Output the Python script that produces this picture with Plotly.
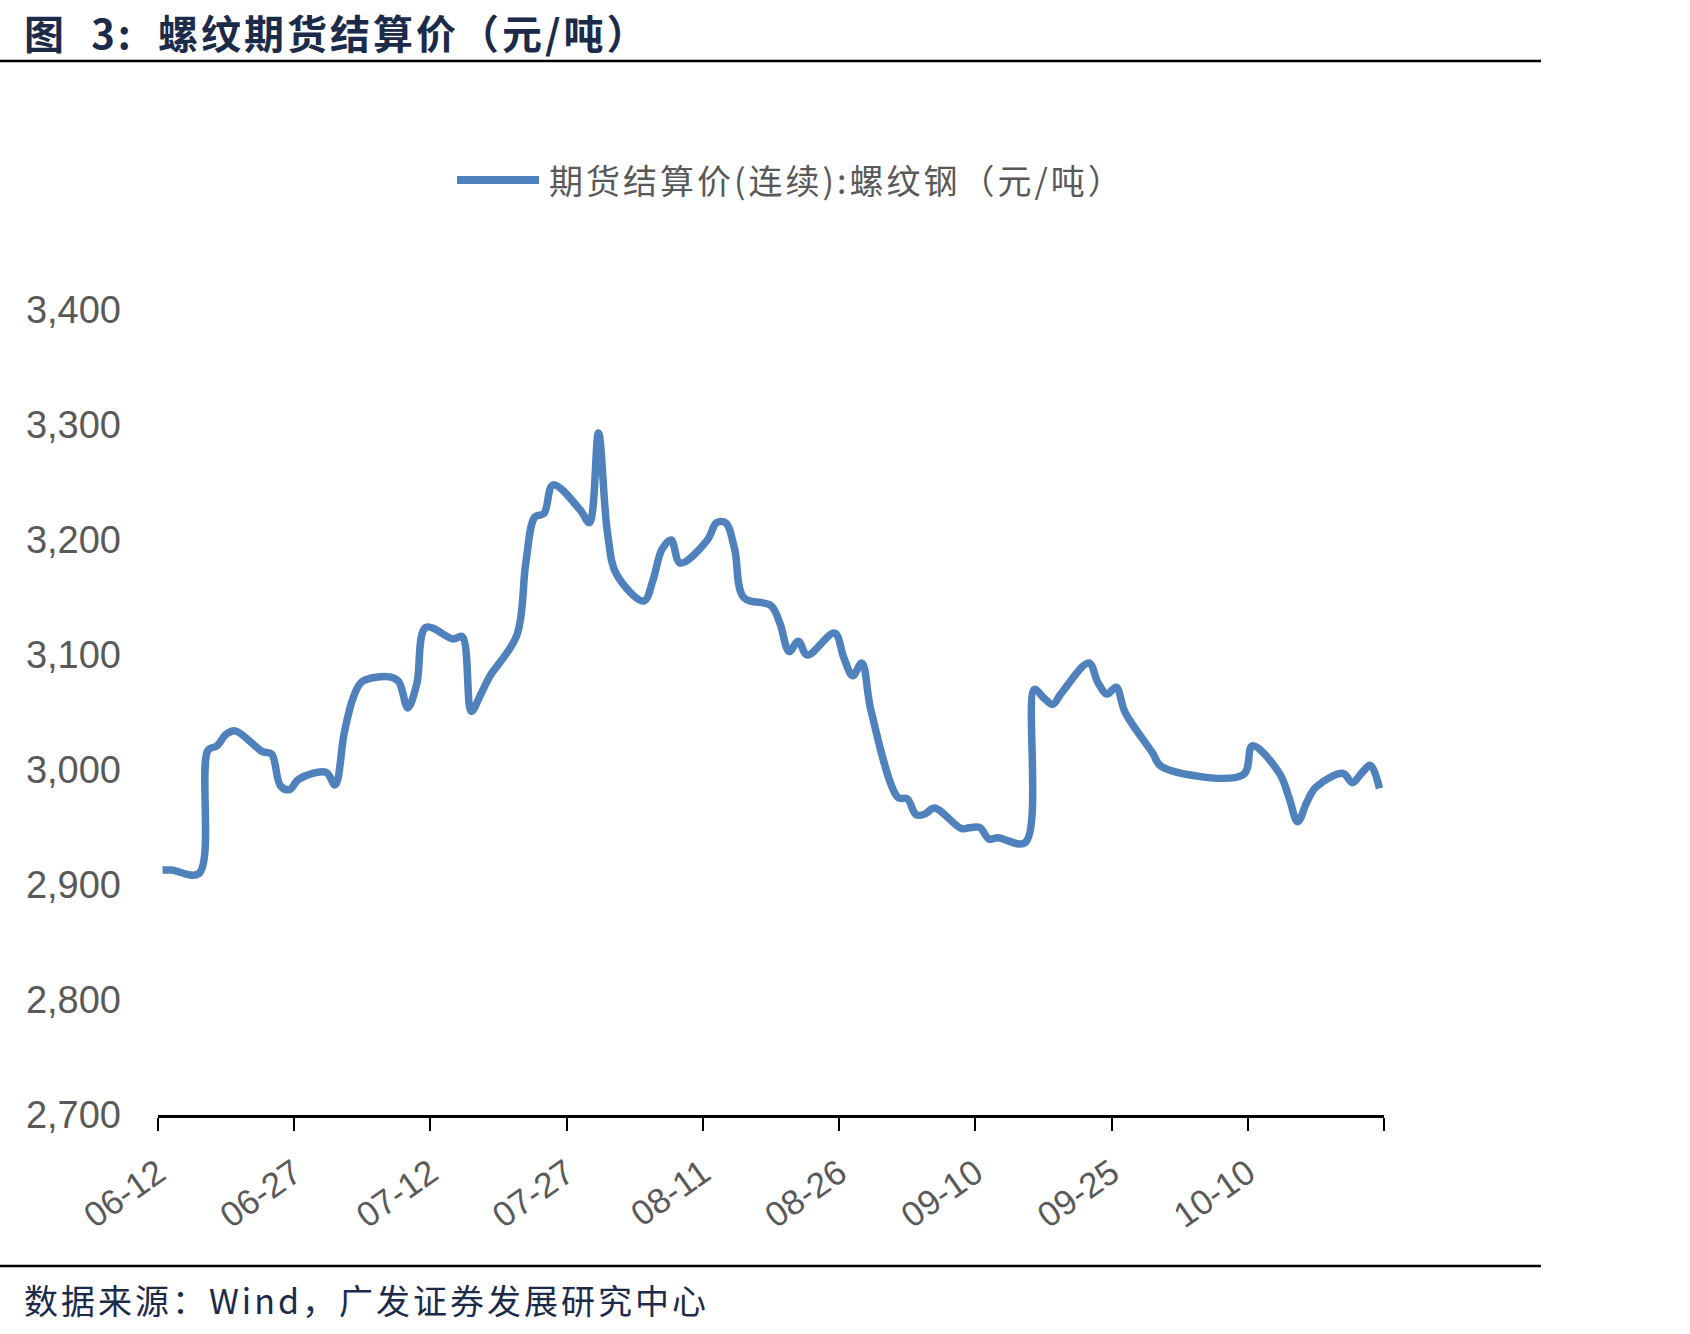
import pandas as pd
import plotly.graph_objects as go

# ---------------- data ----------------
dates = [
    "06-12", "06-13", "06-16", "06-17", "06-18", "06-19", "06-20",
    "06-23", "06-24", "06-25", "06-26", "06-27", "06-30",
    "07-01", "07-02", "07-03", "07-04", "07-07", "07-08", "07-09", "07-10", "07-11",
    "07-14", "07-15", "07-16", "07-17", "07-18", "07-21", "07-22", "07-23", "07-24", "07-25",
    "07-28", "07-29", "07-30", "07-31", "08-01",
    "08-04", "08-05", "08-06", "08-07", "08-08", "08-11", "08-12", "08-13", "08-14", "08-15",
    "08-18", "08-19", "08-20", "08-21", "08-22", "08-25", "08-26", "08-27", "08-28", "08-29",
    "09-01", "09-02", "09-03", "09-04", "09-05", "09-08", "09-09", "09-10", "09-11", "09-12",
    "09-15", "09-16", "09-17", "09-18", "09-19", "09-22", "09-23", "09-24", "09-25", "09-26",
    "09-29", "09-30",
    "10-09", "10-10", "10-13", "10-14", "10-15", "10-16", "10-17",
    "10-20", "10-21", "10-22", "10-23", "10-24",
]
settle = [
    2913, 2913, 2910, 3017, 3021, 3031, 3034,
    3016, 3014, 2986, 2983, 2992, 2998,
    2987, 3032, 3063, 3077, 3081, 3077, 3054, 3075, 3124,
    3114, 3116, 3051, 3065, 3081, 3117, 3180, 3220, 3223, 3248,
    3226, 3215, 3293, 3206, 3170,
    3147, 3165, 3192, 3200, 3180, 3200, 3215, 3215, 3192, 3150,
    3143, 3127, 3103, 3112, 3100, 3119, 3098, 3082, 3093, 3052,
    2976, 2975, 2961, 2962, 2967, 2949, 2950, 2950, 2940, 2941,
    2937, 3070, 3063, 3057, 3067, 3093, 3076, 3066, 3072, 3050,
    3015, 3003,
    2996, 3021, 2997, 2977, 2955, 2972, 2985,
    2997, 2989, 2997, 3004, 2984,
]
year = "2025"
tick_dates = ["06-12", "06-27", "07-12", "07-27", "08-11", "08-26",
              "09-10", "09-25", "10-10", "10-25"]
tick_labels = ["06-12", "06-27", "07-12", "07-27", "08-11", "08-26",
               "09-10", "09-25", "10-10", ""]
y_ticks = [2700, 2800, 2900, 3000, 3100, 3200, 3300, 3400]

series_name = "期货结算价(连续):螺纹钢（元/吨）"
title_text = "图  3:  螺纹期货结算价（元/吨）"
source_text = "数据来源：Wind，广发证券发展研究中心"

# ---------------- layout geometry ----------------
W, H = 1690, 1334
ML, MR, MT, MB = 158, 306, 310, 219
PW, PH = W - ML - MR, H - MT - MB


def PX(x):
    return (x - ML) / PW


def PY(y):
    return (H - MB - y) / PH


def spaced(text, px):
    return f'<span style="letter-spacing:{px}px">{text}</span>'


# each trading day sits in the middle of its date slot
x_vals = pd.to_datetime([f"{year}-{d}" for d in dates]) + pd.Timedelta(hours=12)
tick_vals = pd.to_datetime([f"{year}-{d}" for d in tick_dates])

LINE_COLOR = "#4F81BD"
GRAY = "#595959"
NAVY = "#1C2B4A"
CJK = "Noto Sans CJK SC, Noto Sans, sans-serif"
LAT = "Liberation Sans, Arial, sans-serif"

fig = go.Figure()
fig.add_trace(go.Scatter(
    x=x_vals, y=settle, mode="lines", name=series_name,
    line=dict(color=LINE_COLOR, width=7.5, shape="spline", smoothing=1.0),
    showlegend=False,
))

fig.update_layout(
    width=W, height=H,
    margin=dict(l=ML, r=MR, t=MT, b=MB, autoexpand=False),
    paper_bgcolor="white", plot_bgcolor="white",
    xaxis=dict(
        type="date",
        range=[f"{year}-{tick_dates[0]}", f"{year}-{tick_dates[-1]}"],
        tickmode="array", tickvals=tick_vals, ticktext=tick_labels,
        tickangle=-35, ticklabelstandoff=8,
        ticks="outside", ticklen=13, tickwidth=2, tickcolor="black",
        showline=True, linecolor="black", linewidth=2.5,
        showgrid=False, zeroline=False,
        tickfont=dict(family=LAT, size=35, color=GRAY),
    ),
    yaxis=dict(
        range=[2700, 3400], tickmode="array", tickvals=y_ticks,
        tickformat=",d", showgrid=False, zeroline=False, showline=False,
        ticks="", ticklabelstandoff=36,
        tickfont=dict(family=LAT, size=38, color=GRAY),
    ),
)

# custom legend (long line sample + text)
fig.add_shape(type="line", xref="paper", yref="paper",
              x0=PX(457), x1=PX(539), y0=PY(180), y1=PY(180),
              line=dict(color=LINE_COLOR, width=8))
fig.add_annotation(xref="paper", yref="paper", x=PX(547), y=PY(180),
                   xanchor="left", yanchor="middle", showarrow=False,
                   text=spaced(series_name, 3),
                   font=dict(family=CJK, size=34, color=GRAY))

# title and rules
fig.add_annotation(xref="paper", yref="paper", x=PX(22), y=PY(1),
                   xanchor="left", yanchor="top", showarrow=False,
                   text=f"<b>{spaced(title_text, 3)}</b>",
                   font=dict(family=CJK, size=40, color=NAVY))
fig.add_shape(type="line", xref="paper", yref="paper",
              x0=PX(0), x1=PX(1541), y0=PY(61), y1=PY(61),
              line=dict(color="black", width=2.5))
fig.add_shape(type="line", xref="paper", yref="paper",
              x0=PX(0), x1=PX(1541), y0=PY(1266), y1=PY(1266),
              line=dict(color="black", width=2.5))
fig.add_annotation(xref="paper", yref="paper", x=PX(22), y=PY(1299),
                   xanchor="left", yanchor="middle", showarrow=False,
                   text=spaced(source_text, 3),
                   font=dict(family=CJK, size=34, color=NAVY))

fig.write_html("out.html")
